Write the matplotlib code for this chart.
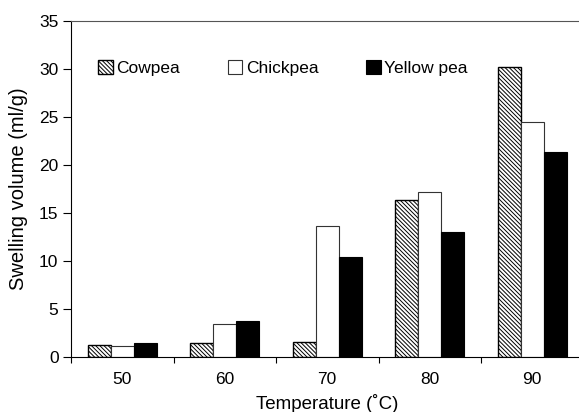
import matplotlib.pyplot as plt
import numpy as np

plt.rcParams['font.family'] = ['Liberation Sans', 'DejaVu Sans']
plt.rcParams['hatch.linewidth'] = 0.7

temps = ['50', '60', '70', '80', '90']
cowpea = [1.2, 1.5, 1.6, 16.4, 30.2]
chickpea = [1.1, 3.45, 13.6, 17.2, 24.5]
yellow_pea = [1.5, 3.7, 10.4, 13.0, 21.4]

fig = plt.figure(figsize=(5.79, 4.12), dpi=100)
ax = fig.add_axes([71 / 579, 55 / 412, 512.5 / 579, 336 / 412])

x = np.arange(len(temps))
w = 0.225
ax.bar(x - w, cowpea, w, facecolor='white', edgecolor='black', hatch='\\' * 8, linewidth=1.0, label='Cowpea')
ax.bar(x, chickpea, w, facecolor='white', edgecolor='#333333', linewidth=0.8, label='Chickpea')
ax.bar(x + w, yellow_pea, w, facecolor='black', edgecolor='black', linewidth=0.8, label='Yellow pea')

ax.set_xlim(-0.5, 4.5)
ax.set_ylim(0, 35)
ax.set_yticks(range(0, 36, 5))
ax.set_xticks(np.arange(-0.5, 5, 1))
ax.set_xticklabels([])
ax.set_xticks(x, minor=True)
ax.set_xticklabels(temps, minor=True)
ax.tick_params(axis='x', which='minor', length=0, labelsize=12.5, pad=11)
ax.tick_params(axis='x', which='major', length=4, direction='out')
ax.tick_params(axis='y', length=6, direction='out', labelsize=12.5, pad=3)

ax.spines['right'].set_visible(False)
ax.spines['top'].set_color('#555555')

ax.set_xlabel('Temperature (˚C)', fontsize=13.5, labelpad=5)
ax.set_ylabel('Swelling volume (ml/g)', fontsize=14.5, labelpad=8)

ax.legend(loc='upper left', bbox_to_anchor=(0.022, 0.93), ncol=3, frameon=False,
          fontsize=12.5, handlelength=0.85, handleheight=0.85, handletextpad=0.2,
          columnspacing=2.75)

fig.savefig('out.png', dpi=100)
